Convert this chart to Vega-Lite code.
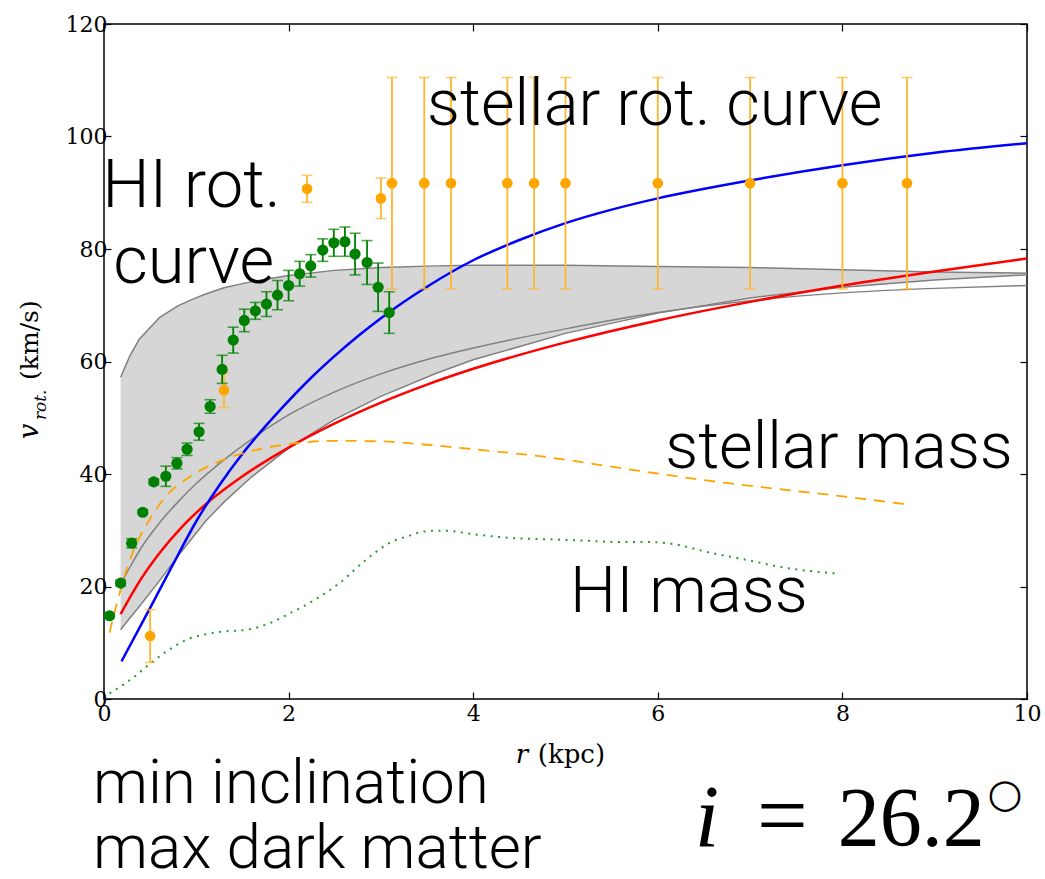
{
  "$schema": "https://vega.github.io/schema/vega-lite/v6.json",
  "width": 923,
  "height": 675,
  "autosize": "none",
  "padding": {"left": 104, "top": 24, "right": 18, "bottom": 180},
  "background": "white",
  "config": {
    "view": {"stroke": "black", "strokeWidth": 1.5},
    "axis": {
      "grid": false,
      "domain": false,
      "tickColor": "black",
      "tickWidth": 1.2,
      "tickSize": -7,
      "labelFont": "DejaVu Serif",
      "labelFontSize": 22,
      "labelColor": "black",
      "labelFlush": false,
      "labelOverlap": false,
      "labelBound": false,
      "title": null
    }
  },
  "datasets": {
    "band": [
      {"r": 0.18, "v": 57.2, "lo": 12.3},
      {"r": 0.28, "v": 61.0, "lo": 14.4},
      {"r": 0.38, "v": 63.9, "lo": 16.4},
      {"r": 0.6, "v": 67.8, "lo": 21.0},
      {"r": 0.8, "v": 69.9, "lo": 25.4},
      {"r": 0.95, "v": 71.0, "lo": 28.5},
      {"r": 1.1, "v": 72.0, "lo": 31.6},
      {"r": 1.3, "v": 73.1, "lo": 35.0},
      {"r": 1.6, "v": 74.2, "lo": 39.5},
      {"r": 2.0, "v": 75.3, "lo": 44.6},
      {"r": 2.5, "v": 76.2, "lo": 49.7},
      {"r": 3.0, "v": 76.7, "lo": 53.8},
      {"r": 3.6, "v": 77.0, "lo": 57.9},
      {"r": 4.0, "v": 77.1, "lo": 60.3},
      {"r": 5.0, "v": 77.1, "lo": 65.0},
      {"r": 6.0, "v": 76.9, "lo": 68.6},
      {"r": 7.0, "v": 76.7, "lo": 71.3},
      {"r": 8.0, "v": 76.3, "lo": 73.2},
      {"r": 9.0, "v": 75.9, "lo": 74.5},
      {"r": 10.0, "v": 75.7, "lo": 75.4}
    ],
    "model_a": [
      {"r": 0.18, "v": 20.3}, {"r": 0.3, "v": 24.0}, {"r": 0.4, "v": 26.8},
      {"r": 0.6, "v": 31.3}, {"r": 0.8, "v": 35.0}, {"r": 1.0, "v": 38.3},
      {"r": 1.3, "v": 42.5}, {"r": 1.6, "v": 46.2}, {"r": 2.0, "v": 50.5},
      {"r": 2.5, "v": 54.6}, {"r": 3.0, "v": 57.8}, {"r": 3.6, "v": 60.8},
      {"r": 4.0, "v": 62.4}, {"r": 5.0, "v": 65.8}, {"r": 6.0, "v": 68.7},
      {"r": 7.0, "v": 70.8}, {"r": 8.0, "v": 72.2}, {"r": 9.0, "v": 73.0},
      {"r": 10.0, "v": 73.5}
    ],
    "red": [
      {"r": 0.18, "v": 15.1}, {"r": 0.4, "v": 21.3}, {"r": 0.6, "v": 25.9},
      {"r": 0.85, "v": 30.7}, {"r": 1.1, "v": 34.6}, {"r": 1.5, "v": 39.6},
      {"r": 2.0, "v": 44.7}, {"r": 2.5, "v": 49.0}, {"r": 3.0, "v": 52.7},
      {"r": 3.5, "v": 55.9}, {"r": 4.0, "v": 58.7}, {"r": 5.0, "v": 63.4},
      {"r": 6.0, "v": 67.3}, {"r": 7.0, "v": 70.6}, {"r": 8.0, "v": 73.5},
      {"r": 9.0, "v": 76.0}, {"r": 10.0, "v": 78.3}
    ],
    "blue": [
      {"r": 0.19, "v": 6.7}, {"r": 0.5, "v": 16.2}, {"r": 0.75, "v": 24.0},
      {"r": 1.0, "v": 31.6}, {"r": 1.25, "v": 38.0}, {"r": 1.5, "v": 43.6},
      {"r": 1.75, "v": 48.5}, {"r": 2.0, "v": 53.0}, {"r": 2.25, "v": 57.2},
      {"r": 2.5, "v": 61.0}, {"r": 2.75, "v": 64.5}, {"r": 3.0, "v": 67.7},
      {"r": 3.5, "v": 73.3}, {"r": 4.0, "v": 78.0}, {"r": 4.5, "v": 81.6},
      {"r": 5.0, "v": 84.6}, {"r": 5.5, "v": 87.0}, {"r": 6.0, "v": 89.0},
      {"r": 7.0, "v": 92.2}, {"r": 8.0, "v": 94.9}, {"r": 9.0, "v": 97.1},
      {"r": 10.0, "v": 98.8}
    ],
    "stellar_mass": [
      {"r": 0.06, "v": 11.8}, {"r": 0.2, "v": 20.6}, {"r": 0.31, "v": 26.0},
      {"r": 0.49, "v": 31.8}, {"r": 0.67, "v": 36.0}, {"r": 0.93, "v": 39.5},
      {"r": 1.29, "v": 42.5}, {"r": 1.65, "v": 44.3}, {"r": 2.0, "v": 45.3},
      {"r": 2.5, "v": 45.9}, {"r": 3.0, "v": 45.8}, {"r": 3.5, "v": 45.2},
      {"r": 4.0, "v": 44.4}, {"r": 4.8, "v": 43.0}, {"r": 5.5, "v": 41.3},
      {"r": 6.24, "v": 39.5}, {"r": 7.0, "v": 37.9}, {"r": 7.7, "v": 36.6},
      {"r": 8.41, "v": 35.2}, {"r": 8.7, "v": 34.6}
    ],
    "hi_mass": [
      {"r": 0.06, "v": 1.0}, {"r": 0.3, "v": 3.6}, {"r": 0.5, "v": 6.3},
      {"r": 0.7, "v": 8.7}, {"r": 0.89, "v": 10.5}, {"r": 1.1, "v": 11.5},
      {"r": 1.29, "v": 12.0}, {"r": 1.54, "v": 12.3}, {"r": 1.8, "v": 13.5},
      {"r": 2.01, "v": 15.2}, {"r": 2.3, "v": 17.8}, {"r": 2.55, "v": 20.6},
      {"r": 2.8, "v": 24.2}, {"r": 3.09, "v": 27.7}, {"r": 3.3, "v": 29.0},
      {"r": 3.53, "v": 29.9}, {"r": 3.71, "v": 29.9}, {"r": 4.0, "v": 29.3},
      {"r": 4.43, "v": 28.6}, {"r": 4.8, "v": 28.4}, {"r": 5.15, "v": 28.2},
      {"r": 5.6, "v": 27.9}, {"r": 5.9, "v": 27.9}, {"r": 6.1, "v": 27.7},
      {"r": 6.6, "v": 25.9}, {"r": 7.0, "v": 24.6}, {"r": 7.32, "v": 23.5},
      {"r": 7.94, "v": 22.3}
    ],
    "hi_rot": [
      {"r": 0.06, "v": 14.8, "lo": 14.5, "hi": 15.1},
      {"r": 0.18, "v": 20.6, "lo": 20.1, "hi": 21.1},
      {"r": 0.30, "v": 27.7, "lo": 26.9, "hi": 28.5},
      {"r": 0.42, "v": 33.2, "lo": 32.8, "hi": 33.6},
      {"r": 0.54, "v": 38.6, "lo": 38.1, "hi": 39.1},
      {"r": 0.67, "v": 39.6, "lo": 37.8, "hi": 41.4},
      {"r": 0.79, "v": 41.9, "lo": 40.9, "hi": 42.9},
      {"r": 0.90, "v": 44.4, "lo": 43.3, "hi": 45.5},
      {"r": 1.03, "v": 47.5, "lo": 46.0, "hi": 49.0},
      {"r": 1.15, "v": 52.0, "lo": 50.8, "hi": 53.2},
      {"r": 1.28, "v": 58.6, "lo": 56.1, "hi": 61.1},
      {"r": 1.40, "v": 63.8, "lo": 61.5, "hi": 66.1},
      {"r": 1.52, "v": 67.3, "lo": 65.3, "hi": 69.3},
      {"r": 1.64, "v": 69.0, "lo": 67.5, "hi": 70.5},
      {"r": 1.76, "v": 70.2, "lo": 68.0, "hi": 72.4},
      {"r": 1.88, "v": 71.8, "lo": 69.2, "hi": 74.4},
      {"r": 2.00, "v": 73.5, "lo": 70.8, "hi": 76.2},
      {"r": 2.12, "v": 75.6, "lo": 73.4, "hi": 77.8},
      {"r": 2.24, "v": 77.0, "lo": 75.0, "hi": 79.0},
      {"r": 2.37, "v": 79.8, "lo": 77.8, "hi": 81.8},
      {"r": 2.49, "v": 81.1, "lo": 78.7, "hi": 83.5},
      {"r": 2.61, "v": 81.3, "lo": 78.7, "hi": 83.9},
      {"r": 2.72, "v": 79.1, "lo": 75.4, "hi": 82.8},
      {"r": 2.85, "v": 77.6, "lo": 73.7, "hi": 81.5},
      {"r": 2.97, "v": 73.2, "lo": 68.9, "hi": 77.5},
      {"r": 3.09, "v": 68.7, "lo": 65.0, "hi": 72.4}
    ],
    "stellar_rot": [
      {"r": 0.50, "v": 11.2, "lo": 6.5, "hi": 15.9},
      {"r": 1.30, "v": 54.9, "lo": 51.8, "hi": 58.0},
      {"r": 2.20, "v": 90.7, "lo": 88.3, "hi": 93.1},
      {"r": 3.00, "v": 89.0, "lo": 85.4, "hi": 92.6},
      {"r": 3.12, "v": 91.7, "lo": 72.9, "hi": 110.5},
      {"r": 3.47, "v": 91.7, "lo": 72.9, "hi": 110.5},
      {"r": 3.76, "v": 91.7, "lo": 72.9, "hi": 110.5},
      {"r": 4.37, "v": 91.7, "lo": 72.9, "hi": 110.5},
      {"r": 4.66, "v": 91.7, "lo": 72.9, "hi": 110.5},
      {"r": 5.00, "v": 91.7, "lo": 72.9, "hi": 110.5},
      {"r": 6.00, "v": 91.7, "lo": 72.9, "hi": 110.5},
      {"r": 7.00, "v": 91.7, "lo": 72.9, "hi": 110.5},
      {"r": 8.00, "v": 91.7, "lo": 72.9, "hi": 110.5},
      {"r": 8.70, "v": 91.7, "lo": 72.9, "hi": 110.5}
    ],
    "notes_hi": [
      {"t": "HI rot.", "r": -0.02, "v": 87.5},
      {"t": "curve", "r": 0.10, "v": 74.0}
    ],
    "notes_plot": [
      {"t": "stellar rot. curve", "r": 3.50, "v": 102.0},
      {"t": "stellar mass", "r": 6.08, "v": 41.1},
      {"t": "HI mass", "r": 5.05, "v": 15.5}
    ],
    "notes_below": [
      {"t": "min inclination", "r": -0.12, "v": -18.5},
      {"t": "max dark matter", "r": -0.12, "v": -30.0}
    ]
  },
  "encoding": {
    "x": {"field": "r", "type": "quantitative", "scale": {"domain": [0, 10], "nice": false, "zero": false}, "axis": null},
    "y": {"field": "v", "type": "quantitative", "scale": {"domain": [0, 120], "nice": false, "zero": false}, "axis": null}
  },
  "layer": [
    {
      "data": {"name": "band"},
      "mark": {"type": "area", "color": "#d6d6d6", "opacity": 1, "interpolate": "linear"},
      "encoding": {
        "x": {"field": "r", "type": "quantitative", "scale": {"domain": [0, 10], "nice": false, "zero": false},
              "axis": {"orient": "bottom", "values": [0, 2, 4, 6, 8, 10], "labelPadding": 11, "labelFontSize": 22, "labelFont": "DejaVu Serif"}},
        "y": {"field": "v", "type": "quantitative", "scale": {"domain": [0, 120], "nice": false, "zero": false},
              "axis": {"orient": "left", "values": [0, 20, 40, 60, 80, 100, 120], "labelPadding": 4, "labelFontSize": 22, "labelFont": "DejaVu Serif"}},
        "y2": {"field": "lo"}
      }
    },
    {
      "data": {"name": "band"},
      "mark": {"type": "line", "color": "#808080", "strokeWidth": 1.5, "interpolate": "linear"},
      "encoding": {}
    },
    {
      "data": {"name": "band"},
      "mark": {"type": "line", "color": "#808080", "strokeWidth": 1.5, "interpolate": "linear"},
      "encoding": {"y": {"field": "lo", "type": "quantitative", "axis": null}}
    },
    {
      "data": {"name": "model_a"},
      "mark": {"type": "line", "color": "#808080", "strokeWidth": 1.5, "interpolate": "monotone"},
      "encoding": {}
    },
    {
      "data": {"name": "red"},
      "mark": {"type": "line", "color": "#ff0000", "strokeWidth": 2.5, "interpolate": "monotone"},
      "encoding": {}
    },
    {
      "data": {"name": "blue"},
      "mark": {"type": "line", "color": "#0000ff", "strokeWidth": 2.5, "interpolate": "monotone"},
      "encoding": {}
    },
    {
      "data": {"name": "stellar_mass"},
      "mark": {"type": "line", "color": "#ffa500", "strokeWidth": 1.8, "strokeDash": [11, 8], "interpolate": "monotone"},
      "encoding": {}
    },
    {
      "data": {"name": "hi_mass"},
      "mark": {"type": "line", "color": "#2a9a2a", "strokeWidth": 2, "strokeDash": [2, 5.5], "interpolate": "monotone"},
      "encoding": {}
    },
    {
      "data": {"name": "stellar_rot"},
      "mark": {"type": "rule", "color": "#ffb52e", "strokeWidth": 1.8},
      "encoding": {"y": {"field": "lo", "type": "quantitative", "axis": null}, "y2": {"field": "hi"}}
    },
    {
      "data": {"name": "stellar_rot"},
      "mark": {"type": "tick", "orient": "horizontal", "color": "#ffb52e", "size": 11, "thickness": 1.6},
      "encoding": {"y": {"field": "lo", "type": "quantitative", "axis": null}}
    },
    {
      "data": {"name": "stellar_rot"},
      "mark": {"type": "tick", "orient": "horizontal", "color": "#ffb52e", "size": 11, "thickness": 1.6},
      "encoding": {"y": {"field": "hi", "type": "quantitative", "axis": null}}
    },
    {
      "data": {"name": "stellar_rot"},
      "mark": {"type": "circle", "color": "#ffa500", "opacity": 1, "size": 115},
      "encoding": {}
    },
    {
      "data": {"name": "hi_rot"},
      "mark": {"type": "rule", "color": "#008000", "strokeWidth": 1.8},
      "encoding": {"y": {"field": "lo", "type": "quantitative", "axis": null}, "y2": {"field": "hi"}}
    },
    {
      "data": {"name": "hi_rot"},
      "mark": {"type": "tick", "orient": "horizontal", "color": "#008000", "size": 11, "thickness": 1.6},
      "encoding": {"y": {"field": "lo", "type": "quantitative", "axis": null}}
    },
    {
      "data": {"name": "hi_rot"},
      "mark": {"type": "tick", "orient": "horizontal", "color": "#008000", "size": 11, "thickness": 1.6},
      "encoding": {"y": {"field": "hi", "type": "quantitative", "axis": null}}
    },
    {
      "data": {"name": "hi_rot"},
      "mark": {"type": "circle", "color": "#008000", "opacity": 1, "size": 125},
      "encoding": {}
    },
    {
      "data": {"name": "notes_hi"},
      "mark": {"type": "text", "font": "Roboto", "fontWeight": 300, "fontSize": 67, "color": "black", "align": "left", "baseline": "alphabetic"},
      "encoding": {"text": {"field": "t"}}
    },
    {
      "data": {"name": "notes_plot"},
      "mark": {"type": "text", "font": "Roboto", "fontWeight": 300, "fontSize": 65, "color": "black", "align": "left", "baseline": "alphabetic"},
      "encoding": {"text": {"field": "t"}}
    },
    {
      "data": {"name": "notes_below"},
      "mark": {"type": "text", "font": "Roboto", "fontWeight": 300, "fontSize": 62, "color": "black", "align": "left", "baseline": "alphabetic"},
      "encoding": {"text": {"field": "t"}}
    },
    {
      "data": {"values": [{"t": "r", "r": 4.46, "v": -11.4}]},
      "mark": {"type": "text", "font": "DejaVu Serif", "fontStyle": "italic", "fontSize": 26, "color": "black", "align": "left", "baseline": "alphabetic"},
      "encoding": {"text": {"field": "t"}}
    },
    {
      "data": {"values": [{"t": "(kpc)", "r": 4.70, "v": -11.4}]},
      "mark": {"type": "text", "font": "DejaVu Serif", "fontSize": 26, "color": "black", "align": "left", "baseline": "alphabetic"},
      "encoding": {"text": {"field": "t"}}
    },
    {
      "data": {"values": [{"t": "(km/s)", "r": -0.71, "v": 63.8}]},
      "mark": {"type": "text", "font": "DejaVu Serif", "fontSize": 25, "color": "black", "align": "center", "baseline": "alphabetic", "angle": 270},
      "encoding": {"text": {"field": "t"}}
    },
    {
      "data": {"values": [{"t": "v", "r": -0.715, "v": 47.6}]},
      "mark": {"type": "text", "font": "DejaVu Serif", "fontStyle": "italic", "fontSize": 27, "color": "black", "align": "center", "baseline": "alphabetic", "angle": 270},
      "encoding": {"text": {"field": "t"}}
    },
    {
      "data": {"values": [{"t": "rot.", "r": -0.63, "v": 52.3}]},
      "mark": {"type": "text", "font": "DejaVu Serif", "fontStyle": "italic", "fontSize": 17, "color": "black", "align": "center", "baseline": "alphabetic", "angle": 270},
      "encoding": {"text": {"field": "t"}}
    },
    {
      "data": {"values": [{"t": "i", "r": 6.40, "v": -26.1}]},
      "mark": {"type": "text", "font": "Liberation Serif", "fontStyle": "italic", "fontSize": 88, "color": "black", "align": "left", "baseline": "alphabetic"},
      "encoding": {"text": {"field": "t"}}
    },
    {
      "data": {"values": [{"t": "=", "r": 7.35, "v": -26.1}]},
      "mark": {"type": "text", "font": "Liberation Serif", "fontSize": 90, "color": "black", "align": "center", "baseline": "alphabetic"},
      "encoding": {"text": {"field": "t"}}
    },
    {
      "data": {"values": [{"t": "26.2", "r": 7.95, "v": -26.1}]},
      "mark": {"type": "text", "font": "Liberation Serif", "fontSize": 84, "color": "black", "align": "left", "baseline": "alphabetic"},
      "encoding": {"text": {"field": "t"}}
    },
    {
      "data": {"values": [{"t": "○", "r": 9.76, "v": -17.1}]},
      "mark": {"type": "text", "font": "DejaVu Sans", "fontSize": 40, "color": "black", "align": "center", "baseline": "middle"},
      "encoding": {"text": {"field": "t"}}
    },
    {
      "data": {"name": "stellar_rot"},
      "mark": {"type": "point", "opacity": 0},
      "encoding": {
        "x": {"field": "r", "type": "quantitative", "scale": {"domain": [0, 10], "nice": false, "zero": false},
              "axis": {"orient": "top", "values": [0, 2, 4, 6, 8, 10], "labels": false}},
        "y": {"field": "v", "type": "quantitative", "scale": {"domain": [0, 120], "nice": false, "zero": false},
              "axis": {"orient": "right", "values": [0, 20, 40, 60, 80, 100, 120], "labels": false}}
      }
    }
  ],
  "resolve": {"axis": {"x": "independent", "y": "independent"}}
}
